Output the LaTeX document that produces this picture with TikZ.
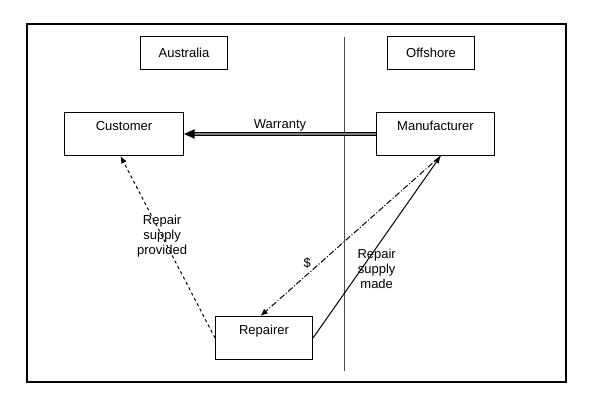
\documentclass[tikz,border=0pt]{standalone}
\usepackage{fontspec}
\setmainfont{Liberation Sans}
\usepackage{tikz}
\usetikzlibrary{positioning}
\usetikzlibrary{calc,arrows.meta}

\tikzset{
	box/.style={draw, line width=0.75pt, inner sep=0pt,
		font=\fontsize{9.75}{11}\selectfont},
	bigbox/.style={box, minimum width=#1, minimum height=32.25pt,
		text height=13.2pt, text depth=19.05pt},
	smallbox/.style={box, minimum width=#1, minimum height=24.75pt,
		text height=7.2pt, text depth=0pt},
	lab/.style={inner sep=1pt, font=\fontsize{9.75}{11}\selectfont},
	warranty/.style={line width=0.75pt, double=gray, double distance=1.5pt,
		-{Triangle[length=8pt,width=7pt]}},
	supplied/.style={line width=0.75pt, dash pattern=on 2.25pt off 2.25pt,
		-{Latex[length=5.5pt,width=4.5pt]}},
	paid/.style={line width=0.75pt,
		dash pattern=on 4.5pt off 1.5pt on 0.75pt off 1.5pt,
		-{Latex[length=5.5pt,width=4.5pt]}},
	made/.style={line width=0.75pt, -{Latex[length=5.5pt,width=4.5pt]}},
	frame/.style={line width=0.8pt},
	border/.style={line width=0.75pt, black!70}
}

\begin{document}
\begin{tikzpicture}[x=0.75pt, y=-0.75pt]
	
	% ------------------------------------------------
	% Ensure the dimensions of graphic are appropriate
	\useasboundingbox (0,0) rectangle (592,407);
	\draw[frame] (27,24) rectangle (566,382);
	
	% ------------------------------------------------
	% Relevant coordinates
	\coordinate (BorderTop) at (344,37);
	\coordinate (BorderBot) at (344,371);
	
	\draw[border] (BorderTop) -- (BorderBot);
	
	% ----------------
	% Regions
	\node[smallbox=65.25pt, anchor=north west] (Aus) at (140,36) {Australia};
	\node[smallbox=65.25pt, anchor=north west] (Off) at (387,36) {Offshore};
	
	% ----------------
	% Parties
	\node[bigbox=89.25pt, anchor=north west] (Cust) at (64,112) {Customer};
	\node[bigbox=88.5pt, anchor=north west] (Manu) at (376,112) {Manufacturer};
	\node[bigbox=72.75pt, anchor=north west] (Rep) at (215,316) {Repairer};
	
	%%%%%%%%%%%%%%%%%%%%%%%%%%%%%%%%%%%%%%%%%
	%Flows
	\draw[warranty] (Manu.west) -- node[lab, above=0.5pt] {Warranty} (Cust.east);
	
	\draw[supplied] (Rep.west) -- node[lab, pos=0.56, align=center]
		{Repair\\supply\\provided} (Cust.261);
	
	\draw[paid] (Manu.283) -- node[lab, pos=0.74, above=2.8pt] {\$} (Rep.99);
	
	\draw[made] (Rep.east) -- node[lab, pos=0.38, xshift=11.4pt, align=center]
		{Repair\\supply\\made} (Manu.283);
	
\end{tikzpicture}
\end{document}
